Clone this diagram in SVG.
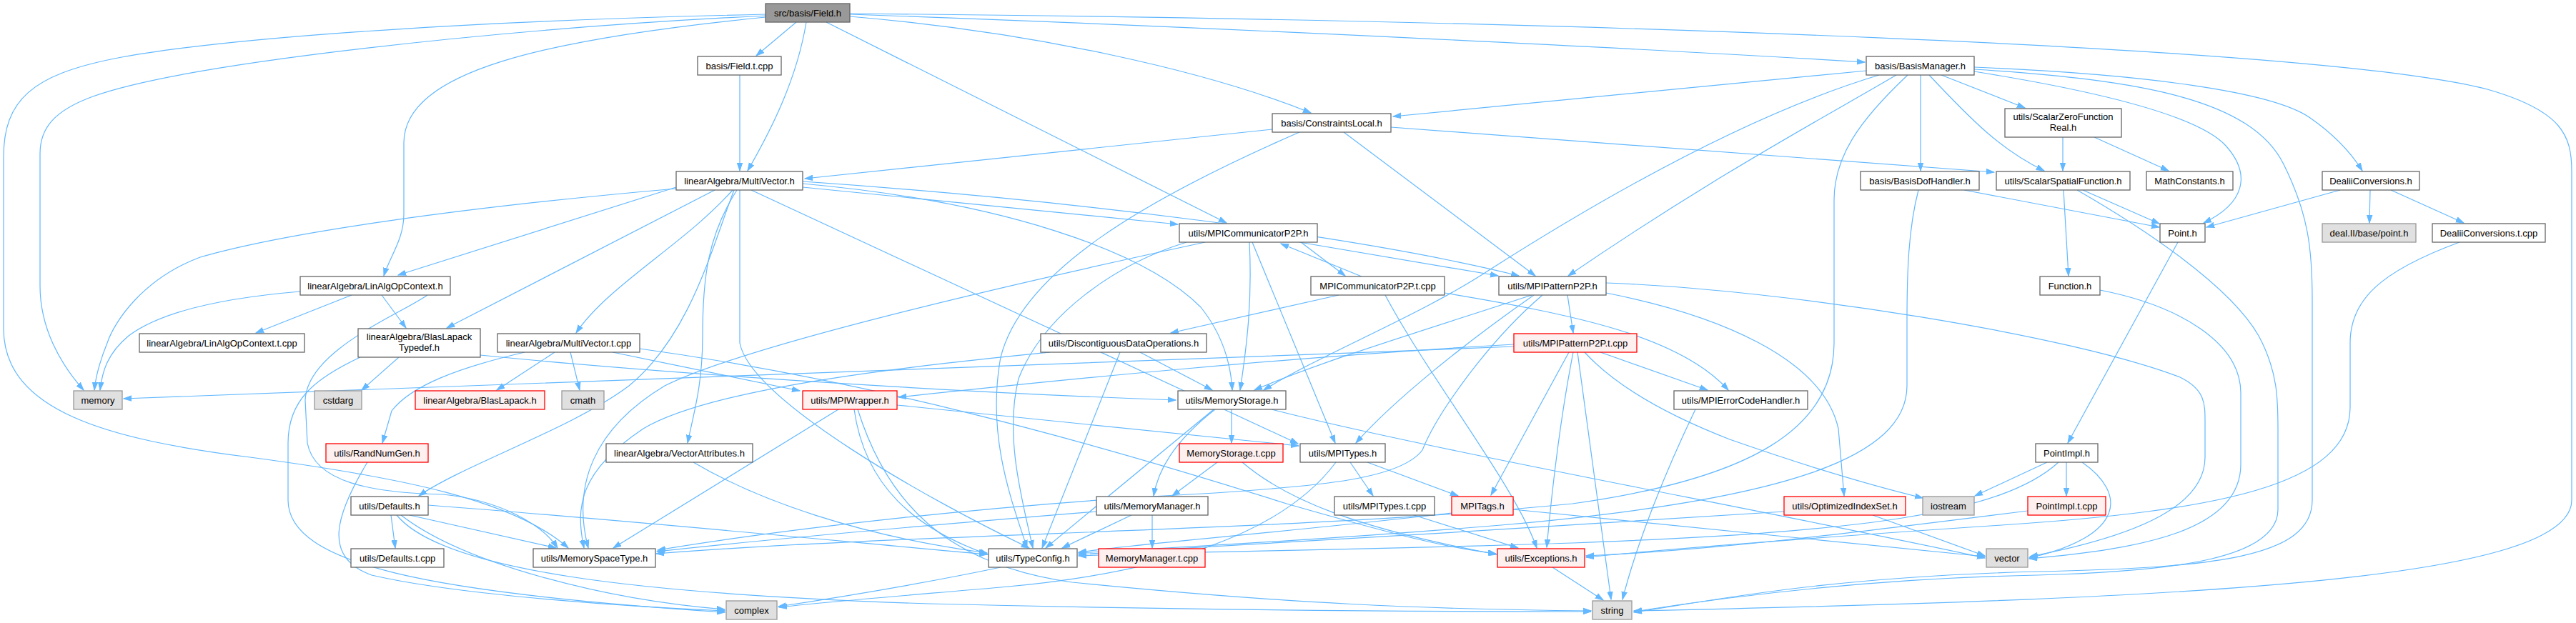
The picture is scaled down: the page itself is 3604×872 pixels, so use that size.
<svg xmlns="http://www.w3.org/2000/svg" width="3604" height="872" viewBox="0 0 3604 872">
<style>
.n rect{fill:#fff;stroke:#666;stroke-width:1.3}
.root rect{fill:#999;stroke:#666;stroke-width:1.3}
.sys rect{fill:#e0e0e0;stroke:#999;stroke-width:1.3}
.red rect{fill:#fff0f0;stroke:#ff0000;stroke-width:1.3}
text{font-family:"Liberation Sans",Arial,Helvetica,sans-serif;font-size:13px;text-anchor:middle;fill:#000}
#edges path{fill:none;stroke:#63b8ff;stroke-width:1.2;marker-end:url(#a)}
</style>
<defs>
<marker id="a" markerWidth="12" markerHeight="9" refX="11" refY="4.5" orient="auto" markerUnits="userSpaceOnUse"><path d="M0,0.8 L11,4.5 L0,8.2 z" fill="#63b8ff" stroke="#63b8ff" stroke-width="1"/></marker>
</defs>
<rect x="0" y="0" width="3604" height="872" fill="#fff"/>
<g id="edges">
<path d="M1114,31 L1058,78"/>
<path d="M1128,31 C1115,110 1080,180 1046,239"/>
<path d="M1189,20 C1700,38 2300,68 2609,87"/>
<path d="M1189,23 C1450,45 1690,100 1834,158"/>
<path d="M1156,31 L1716,312"/>
<path d="M1071,24 C760,55 565,100 565,200 L565,300 C565,335 545,360 537,386"/>
<path d="M1071,22 C700,40 260,88 130,135 C75,155 56,180 56,215 L56,400 C56,460 85,510 117,546"/>
<path d="M1071,20 C620,30 300,55 160,82 C45,105 5,140 5,220 L5,460 C5,575 150,615 350,640 C560,668 720,700 795,767"/>
<path d="M1189,19 C2200,28 3250,65 3480,125 C3585,155 3598,190 3598,240 L3598,700 C3598,810 3100,838 2286,855"/>
<path d="M1035,105 L1035,239"/>
<path d="M2611,99 L1949,163"/>
<path d="M2653,105 C2560,160 2400,245 2194,386"/>
<path d="M2629,105 C2480,150 2300,240 2085,377 C1990,440 1850,495 1768,546"/>
<path d="M2687,105 L2687,239"/>
<path d="M2699,105 C2760,170 2800,210 2860,239"/>
<path d="M2716,105 L2833,151"/>
<path d="M2762,94 C3000,104 3180,128 3232,165 C3268,190 3290,215 3305,239"/>
<path d="M2762,100 C2950,130 3080,165 3115,205 C3150,245 3140,285 3083,312"/>
<path d="M2669,105 C2600,170 2566,220 2566,280 L2566,480 C2566,600 2450,670 2200,705 C1800,745 1300,745 918,775"/>
<path d="M2762,97 C3000,112 3150,140 3195,230 C3230,300 3235,350 3235,420 L3235,700 C3235,780 3100,795 2850,800 C2550,808 2400,840 2286,857"/>
<path d="M1780,181 L1126,250"/>
<path d="M1880,185 L2148,386"/>
<path d="M1946,178 L2790,241"/>
<path d="M1818,185 C1600,280 1430,380 1400,500 C1380,610 1415,700 1437,767"/>
<path d="M946,262 L557,385"/>
<path d="M946,264 C650,290 400,325 280,360 C200,390 160,450 150,480 C140,505 134,525 132,546"/>
<path d="M1000,266 L625,459"/>
<path d="M1025,266 C960,340 850,400 806,466"/>
<path d="M1027,266 C995,350 965,470 880,540 C800,600 650,650 586,694"/>
<path d="M1031,266 C990,330 983,390 983,470 C983,540 970,580 962,620"/>
<path d="M1035,266 L1035,480 C1050,560 1300,700 1440,767"/>
<path d="M1051,266 L1816,621"/>
<path d="M1123,254 C1500,280 1900,330 2125,386"/>
<path d="M1123,262 L1648,314"/>
<path d="M1123,257 C1400,282 1600,350 1680,430 C1712,470 1722,510 1724,546"/>
<path d="M1660,339 C1560,370 1460,440 1425,530 C1405,610 1430,700 1445,767"/>
<path d="M1820,339 L1882,386"/>
<path d="M1818,339 L2096,386"/>
<path d="M1748,339 C1752,420 1745,480 1735,546"/>
<path d="M1752,339 L1868,620"/>
<path d="M1686,339 C1450,390 1050,480 930,540 C830,600 800,680 823,767"/>
<path d="M1905,387 L1792,341"/>
<path d="M1873,413 L1638,466"/>
<path d="M1938,413 C2000,530 2120,680 2150,767"/>
<path d="M2021,410 C2200,440 2350,470 2418,546"/>
<path d="M2193,413 L2201,466"/>
<path d="M2143,413 C2000,460 1850,505 1755,546"/>
<path d="M2146,413 C2050,480 1950,560 1897,620"/>
<path d="M2158,413 C2080,480 2010,580 1990,630 C1960,670 1850,680 1700,690 C1400,705 1100,740 920,770"/>
<path d="M2247,396 C2500,405 2900,470 3050,528 C3085,545 3085,565 3085,590 L3085,640 C3085,705 3000,748 2840,779"/>
<path d="M2247,410 C2400,440 2550,500 2572,600 L2580,694"/>
<path d="M2118,485 C1500,510 900,530 173,558"/>
<path d="M2118,482 C1800,500 1500,530 1257,556"/>
<path d="M2195,493 L2086,693"/>
<path d="M2201,493 C2180,600 2170,700 2164,766"/>
<path d="M2207,493 L2254,839"/>
<path d="M2239,493 L2389,546"/>
<path d="M2217,493 C2260,540 2330,580 2420,615 C2520,650 2620,680 2690,697"/>
<path d="M2372,573 C2330,660 2290,760 2270,839"/>
<path d="M1889,647 L1921,694"/>
<path d="M1913,647 L2040,694"/>
<path d="M1869,647 C1800,740 1650,800 1400,822 C1250,835 1150,843 1090,850"/>
<path d="M1975,720 L2124,767"/>
<path d="M2117,713 C2400,740 2600,760 2777,779"/>
<path d="M2031,718 C1800,745 1600,760 1509,773"/>
<path d="M2172,794 L2243,840"/>
<path d="M2620,721 L2777,778"/>
<path d="M2496,716 C2200,735 1800,760 1509,776"/>
<path d="M2864,647 L2763,694"/>
<path d="M2891,647 L2891,694"/>
<path d="M2913,647 C2975,690 2975,750 2839,781"/>
<path d="M2880,647 C2800,720 2600,745 2200,760 C1900,770 1650,772 1509,778"/>
<path d="M2837,715 C2600,745 2400,770 2219,778"/>
<path d="M3047,339 L2893,620"/>
<path d="M2938,406 C3050,428 3135,480 3135,550 L3135,650 C3135,742 3000,768 2839,782"/>
<path d="M2748,266 L3021,318"/>
<path d="M2684,266 C2670,320 2668,380 2668,450 L2668,540 C2668,640 2500,700 2100,735 C1800,760 1600,768 1509,774"/>
<path d="M2887,266 L2894,386"/>
<path d="M2914,266 L3021,313"/>
<path d="M2906,266 C3000,320 3120,400 3160,470 C3187,520 3187,560 3187,600 L3187,713 C3187,780 3050,800 2850,805 C2600,810 2400,838 2286,856"/>
<path d="M2886,192 L2886,239"/>
<path d="M2930,192 L3034,239"/>
<path d="M3274,266 L3087,318"/>
<path d="M3316,266 L3315,312"/>
<path d="M3345,266 L3447,312"/>
<path d="M3441,339 C3330,380 3288,420 3288,480 L3288,570 C3288,680 3100,715 2800,735 C2500,755 2300,772 2219,780"/>
<path d="M1723,573 L1723,620"/>
<path d="M1700,573 C1640,620 1620,660 1614,694"/>
<path d="M1698,573 L1463,767"/>
<path d="M1779,573 C2000,630 2500,720 2777,781"/>
<path d="M1703,647 L1640,694"/>
<path d="M1738,647 C1800,700 1900,740 2094,776"/>
<path d="M1612,721 L1612,767"/>
<path d="M1583,721 L1486,767"/>
<path d="M1534,716 C1300,735 1100,752 919,772"/>
<path d="M1595,493 L1696,546"/>
<path d="M1567,493 L1458,767"/>
<path d="M1469,493 C1300,510 1000,540 900,600 C810,660 805,710 817,767"/>
<path d="M1173,573 L858,767"/>
<path d="M1195,573 C1210,680 1280,740 1382,776"/>
<path d="M1255,567 L1817,624"/>
<path d="M1200,573 C1240,700 1320,790 1500,815 C1800,845 2000,853 2226,855"/>
<path d="M1400,794 C1300,815 1200,832 1089,849"/>
<path d="M547,721 L553,767"/>
<path d="M561,721 C650,790 850,840 1014,853"/>
<path d="M573,721 L778,767"/>
<path d="M599,707 C900,730 1200,760 1381,776"/>
<path d="M555,721 C620,800 900,832 1300,845 C1700,855 2000,856 2226,856"/>
<path d="M514,647 C470,720 450,780 520,805 C650,835 900,850 1014,855"/>
<path d="M558,500 L506,546"/>
<path d="M504,500 C440,530 403,560 403,620 L403,700 C403,790 600,830 1014,857"/>
<path d="M672,497 C900,520 1300,548 1645,560"/>
<path d="M776,493 L695,546"/>
<path d="M798,493 L811,546"/>
<path d="M734,493 C640,515 575,540 548,575 L535,620"/>
<path d="M857,493 L1119,547"/>
<path d="M895,488 C1200,530 1500,610 1800,705 C1950,748 2020,766 2093,775"/>
<path d="M420,408 C300,418 220,440 180,470 C150,495 143,520 140,546"/>
<path d="M492,413 L358,466"/>
<path d="M534,413 L568,459"/>
<path d="M598,413 C560,440 430,490 427,560 L430,620 C440,675 520,690 620,692 C700,700 760,735 780,767"/>
<path d="M970,647 C1060,700 1200,750 1381,774"/>
</g>
<g id="n_field" class="root"><rect x="1071" y="5" width="118" height="26"/><text x="1130" y="22.5">src/basis/Field.h</text></g>
<g id="n_fieldt" class="n"><rect x="976" y="79" width="117" height="26"/><text x="1034.5" y="96.5">basis/Field.t.cpp</text></g>
<g id="n_bm" class="n"><rect x="2611" y="79" width="151" height="26"/><text x="2686.5" y="96.5">basis/BasisManager.h</text></g>
<g id="n_cl" class="n"><rect x="1780" y="159" width="166" height="26"/><text x="1863" y="176.5">basis/ConstraintsLocal.h</text></g>
<g id="n_szf" class="n"><rect x="2805" y="152" width="163" height="40"/><text x="2886.5" y="167.5">utils/ScalarZeroFunction</text><text x="2886.5" y="182.5">Real.h</text></g>
<g id="n_mv" class="n"><rect x="946" y="240" width="177" height="26"/><text x="1034.5" y="257.5">linearAlgebra/MultiVector.h</text></g>
<g id="n_bdh" class="n"><rect x="2603" y="240" width="166" height="26"/><text x="2686" y="257.5">basis/BasisDofHandler.h</text></g>
<g id="n_ssf" class="n"><rect x="2793" y="240" width="187" height="26"/><text x="2886.5" y="257.5">utils/ScalarSpatialFunction.h</text></g>
<g id="n_mc" class="n"><rect x="3003" y="240" width="121" height="26"/><text x="3063.5" y="257.5">MathConstants.h</text></g>
<g id="n_dc" class="n"><rect x="3249" y="240" width="136" height="26"/><text x="3317" y="257.5">DealiiConversions.h</text></g>
<g id="n_comm" class="n"><rect x="1650" y="313" width="193" height="26"/><text x="1746.5" y="330.5">utils/MPICommunicatorP2P.h</text></g>
<g id="n_point" class="n"><rect x="3022" y="313" width="63" height="26"/><text x="3053.5" y="330.5">Point.h</text></g>
<g id="n_dealpt" class="sys"><rect x="3249" y="313" width="131" height="26"/><text x="3314.5" y="330.5">deal.II/base/point.h</text></g>
<g id="n_dct" class="n"><rect x="3403" y="313" width="158" height="26"/><text x="3482" y="330.5">DealiiConversions.t.cpp</text></g>
<g id="n_lao" class="n"><rect x="420" y="387" width="210" height="26"/><text x="525" y="404.5">linearAlgebra/LinAlgOpContext.h</text></g>
<g id="n_commt" class="n"><rect x="1834" y="387" width="187" height="26"/><text x="1927.5" y="404.5">MPICommunicatorP2P.t.cpp</text></g>
<g id="n_pat" class="n"><rect x="2097" y="387" width="150" height="26"/><text x="2172" y="404.5">utils/MPIPatternP2P.h</text></g>
<g id="n_func" class="n"><rect x="2854" y="387" width="84" height="26"/><text x="2896" y="404.5">Function.h</text></g>
<g id="n_laot" class="n"><rect x="195" y="467" width="231" height="26"/><text x="310.5" y="484.5">linearAlgebra/LinAlgOpContext.t.cpp</text></g>
<g id="n_blt" class="n"><rect x="501" y="460" width="171" height="40"/><text x="586.5" y="475.5">linearAlgebra/BlasLapack</text><text x="586.5" y="490.5">Typedef.h</text></g>
<g id="n_mvt" class="n"><rect x="696" y="467" width="199" height="26"/><text x="795.5" y="484.5">linearAlgebra/MultiVector.t.cpp</text></g>
<g id="n_ddo" class="n"><rect x="1456" y="467" width="232" height="26"/><text x="1572" y="484.5">utils/DiscontiguousDataOperations.h</text></g>
<g id="n_patt" class="red"><rect x="2118" y="467" width="172" height="26"/><text x="2204" y="484.5">utils/MPIPatternP2P.t.cpp</text></g>
<g id="n_memory" class="sys"><rect x="103" y="547" width="68" height="26"/><text x="137" y="564.5">memory</text></g>
<g id="n_cstdarg" class="sys"><rect x="440" y="547" width="66" height="26"/><text x="473" y="564.5">cstdarg</text></g>
<g id="n_bl" class="red"><rect x="581" y="547" width="181" height="26"/><text x="671.5" y="564.5">linearAlgebra/BlasLapack.h</text></g>
<g id="n_cmath" class="sys"><rect x="786" y="547" width="59" height="26"/><text x="815.5" y="564.5">cmath</text></g>
<g id="n_mpiw" class="red"><rect x="1123" y="547" width="132" height="26"/><text x="1189" y="564.5">utils/MPIWrapper.h</text></g>
<g id="n_ms" class="n"><rect x="1648" y="547" width="151" height="26"/><text x="1723.5" y="564.5">utils/MemoryStorage.h</text></g>
<g id="n_mpie" class="n"><rect x="2342" y="547" width="187" height="26"/><text x="2435.5" y="564.5">utils/MPIErrorCodeHandler.h</text></g>
<g id="n_rng" class="red"><rect x="456" y="621" width="143" height="26"/><text x="527.5" y="638.5">utils/RandNumGen.h</text></g>
<g id="n_va" class="n"><rect x="848" y="621" width="205" height="26"/><text x="950.5" y="638.5">linearAlgebra/VectorAttributes.h</text></g>
<g id="n_mst" class="red"><rect x="1650" y="621" width="145" height="26"/><text x="1722.5" y="638.5">MemoryStorage.t.cpp</text></g>
<g id="n_mpit" class="n"><rect x="1819" y="621" width="119" height="26"/><text x="1878.5" y="638.5">utils/MPITypes.h</text></g>
<g id="n_pimpl" class="n"><rect x="2848" y="621" width="87" height="26"/><text x="2891.5" y="638.5">PointImpl.h</text></g>
<g id="n_def" class="n"><rect x="491" y="695" width="108" height="26"/><text x="545" y="712.5">utils/Defaults.h</text></g>
<g id="n_mm" class="n"><rect x="1534" y="695" width="156" height="26"/><text x="1612" y="712.5">utils/MemoryManager.h</text></g>
<g id="n_mpitt" class="n"><rect x="1867" y="695" width="140" height="26"/><text x="1937" y="712.5">utils/MPITypes.t.cpp</text></g>
<g id="n_tags" class="red"><rect x="2031" y="695" width="86" height="26"/><text x="2074" y="712.5">MPITags.h</text></g>
<g id="n_ois" class="red"><rect x="2496" y="695" width="170" height="26"/><text x="2581" y="712.5">utils/OptimizedIndexSet.h</text></g>
<g id="n_ios" class="sys"><rect x="2690" y="695" width="72" height="26"/><text x="2726" y="712.5">iostream</text></g>
<g id="n_pimplt" class="red"><rect x="2837" y="695" width="109" height="26"/><text x="2891.5" y="712.5">PointImpl.t.cpp</text></g>
<g id="n_deft" class="n"><rect x="491" y="768" width="130" height="26"/><text x="556" y="785.5">utils/Defaults.t.cpp</text></g>
<g id="n_mst2" class="n"><rect x="746" y="768" width="171" height="26"/><text x="831.5" y="785.5">utils/MemorySpaceType.h</text></g>
<g id="n_tc" class="n"><rect x="1383" y="768" width="124" height="26"/><text x="1445" y="785.5">utils/TypeConfig.h</text></g>
<g id="n_mmt" class="red"><rect x="1537" y="768" width="149" height="26"/><text x="1611.5" y="785.5">MemoryManager.t.cpp</text></g>
<g id="n_exc" class="red"><rect x="2095" y="768" width="122" height="26"/><text x="2156" y="785.5">utils/Exceptions.h</text></g>
<g id="n_vec" class="sys"><rect x="2779" y="768" width="58" height="26"/><text x="2808" y="785.5">vector</text></g>
<g id="n_complex" class="sys"><rect x="1016" y="841" width="71" height="26"/><text x="1051.5" y="858.5">complex</text></g>
<g id="n_string" class="sys"><rect x="2228" y="841" width="55" height="26"/><text x="2255.5" y="858.5">string</text></g>
</svg>
